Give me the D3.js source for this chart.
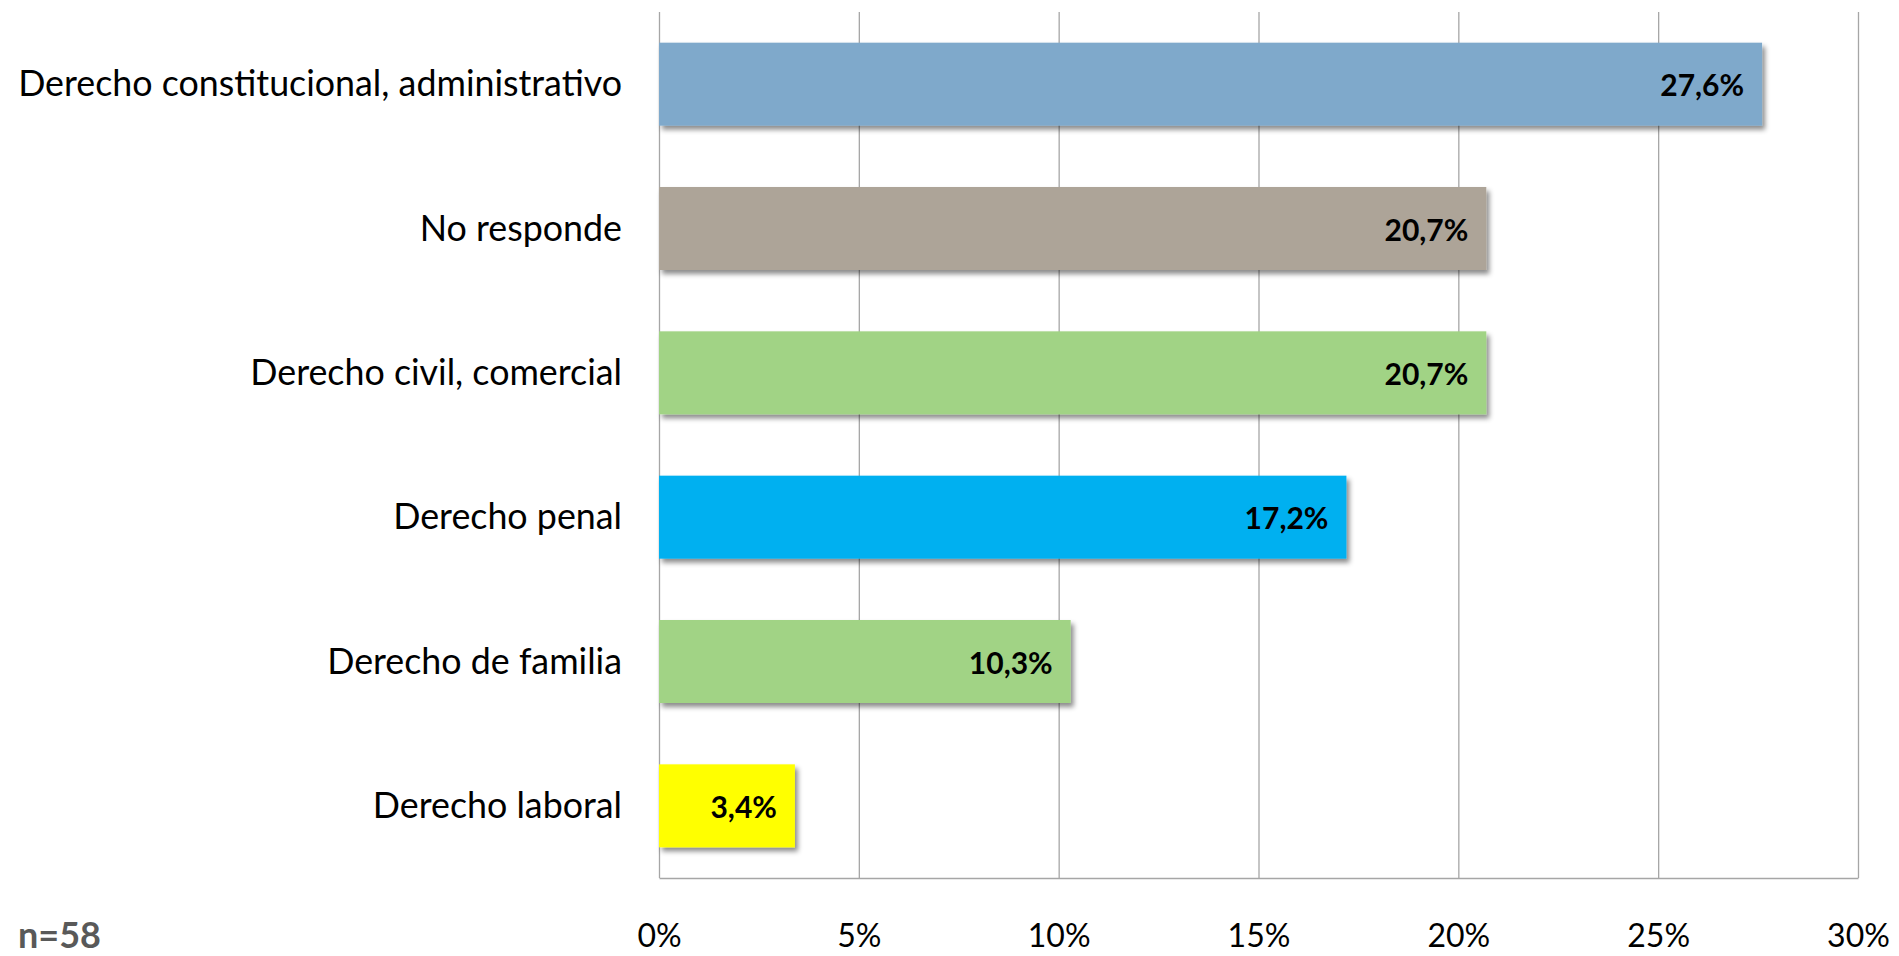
<!DOCTYPE html>
<html>
<head>
<meta charset="utf-8">
<script src="https://cdn.jsdelivr.net/npm/d3@7"></script>
<style>
  html, body { margin: 0; padding: 0; background: #ffffff; overflow: hidden; }
  svg { display: block; }
</style>
</head>
<body>
<svg id="chart" width="1899" height="956"></svg>
<script>
// ---- Data ----
const categories = [
  "Derecho constitucional, administrativo",
  "No responde",
  "Derecho civil, comercial",
  "Derecho penal",
  "Derecho de familia",
  "Derecho laboral"
];
const values = [27.6, 20.7, 20.7, 17.2, 10.3, 3.4];
const valueLabels = ["27,6%", "20,7%", "20,7%", "17,2%", "10,3%", "3,4%"];
const barColors = ["#7FA9CB", "#ADA498", "#A1D385", "#00B0F0", "#A1D385", "#FFFF00"];
const tickValues = [0, 5, 10, 15, 20, 25, 30];
const tickLabels = ["0%", "5%", "10%", "15%", "20%", "25%", "30%"];
const sampleNote = "n=58";

// ---- Layout ----
const W = 1899, H = 956;
const plot = { left: 659, right: 1858, top: 12, bottom: 878 };
const svg = d3.select("#chart");

const x = d3.scaleLinear().domain([0, 30]).range([plot.left, plot.right]);
const y = d3.scaleBand().domain(categories).range([plot.top, plot.bottom]).paddingInner(0.425).paddingOuter(0.2125);

// shadow filter
const defs = svg.append("defs");
const f = defs.append("filter").attr("id", "shadow").attr("x", "-5%").attr("y", "-20%").attr("width", "115%").attr("height", "160%");
f.append("feDropShadow").attr("dx", 3).attr("dy", 4).attr("stdDeviation", 2.5)
  .attr("flood-color", "#000").attr("flood-opacity", 0.45);

// grid + bottom axis
const gridAxis = d3.axisBottom(x)
  .tickValues(tickValues)
  .tickSizeInner(-(plot.bottom - plot.top))
  .tickSizeOuter(0)
  .tickFormat((d, i) => tickLabels[i]);

const gAxis = svg.append("g")
  .attr("transform", `translate(0,${plot.bottom})`)
  .call(gridAxis);
gAxis.select(".domain").attr("stroke", "#A6A6A6").attr("stroke-width", 1.3);
gAxis.selectAll(".tick line").attr("stroke", "#A6A6A6").attr("stroke-width", 1.3);
gAxis.selectAll(".tick text")
  .attr("y", 69).attr("dy", 0)
  .attr("fill", "#000")
  .style("font-family", "Lato, 'Open Sans', sans-serif")
  .style("font-size", "32px");

// bars
svg.append("g").selectAll("rect")
  .data(values)
  .join("rect")
  .attr("x", x(0))
  .attr("y", (d, i) => y(categories[i]))
  .attr("width", d => x(d) - x(0))
  .attr("height", y.bandwidth())
  .attr("fill", (d, i) => barColors[i])
  .attr("filter", "url(#shadow)");

// value labels
svg.append("g").selectAll("text")
  .data(values)
  .join("text")
  .attr("x", d => x(d) - 18)
  .attr("y", (d, i) => y(categories[i]) + y.bandwidth() / 2 + 12)
  .attr("text-anchor", "end")
  .style("font-family", "Lato, 'Open Sans', sans-serif")
  .style("font-weight", "bold")
  .style("font-size", "30px")
  .attr("fill", "#000")
  .text((d, i) => valueLabels[i]);

// category labels
const catG = svg.append("g");
const catTexts = catG.selectAll("text")
  .data(categories)
  .join("text")
  .attr("x", 622)
  .attr("y", d => y(d) + y.bandwidth() / 2 + 12)
  .attr("text-anchor", "end")
  .style("font-family", "Lato, 'Open Sans', sans-serif")
  .style("font-size", "32px")
  .attr("fill", "#000")
  .text(d => d);
// fit the longest label to its reference width
const longest = catTexts.filter((d, i) => i === 0).node();
const w0 = longest.getComputedTextLength();
const fs = 32 * 604 / w0;
catTexts.style("font-size", fs + "px");

// sample note
svg.append("text")
  .attr("x", 18)
  .attr("y", 948)
  .style("font-family", "Lato, 'Open Sans', sans-serif")
  .style("font-weight", "bold")
  .style("font-size", "36px")
  .attr("fill", "#595959")
  .text(sampleNote);
</script>
</body>
</html>
